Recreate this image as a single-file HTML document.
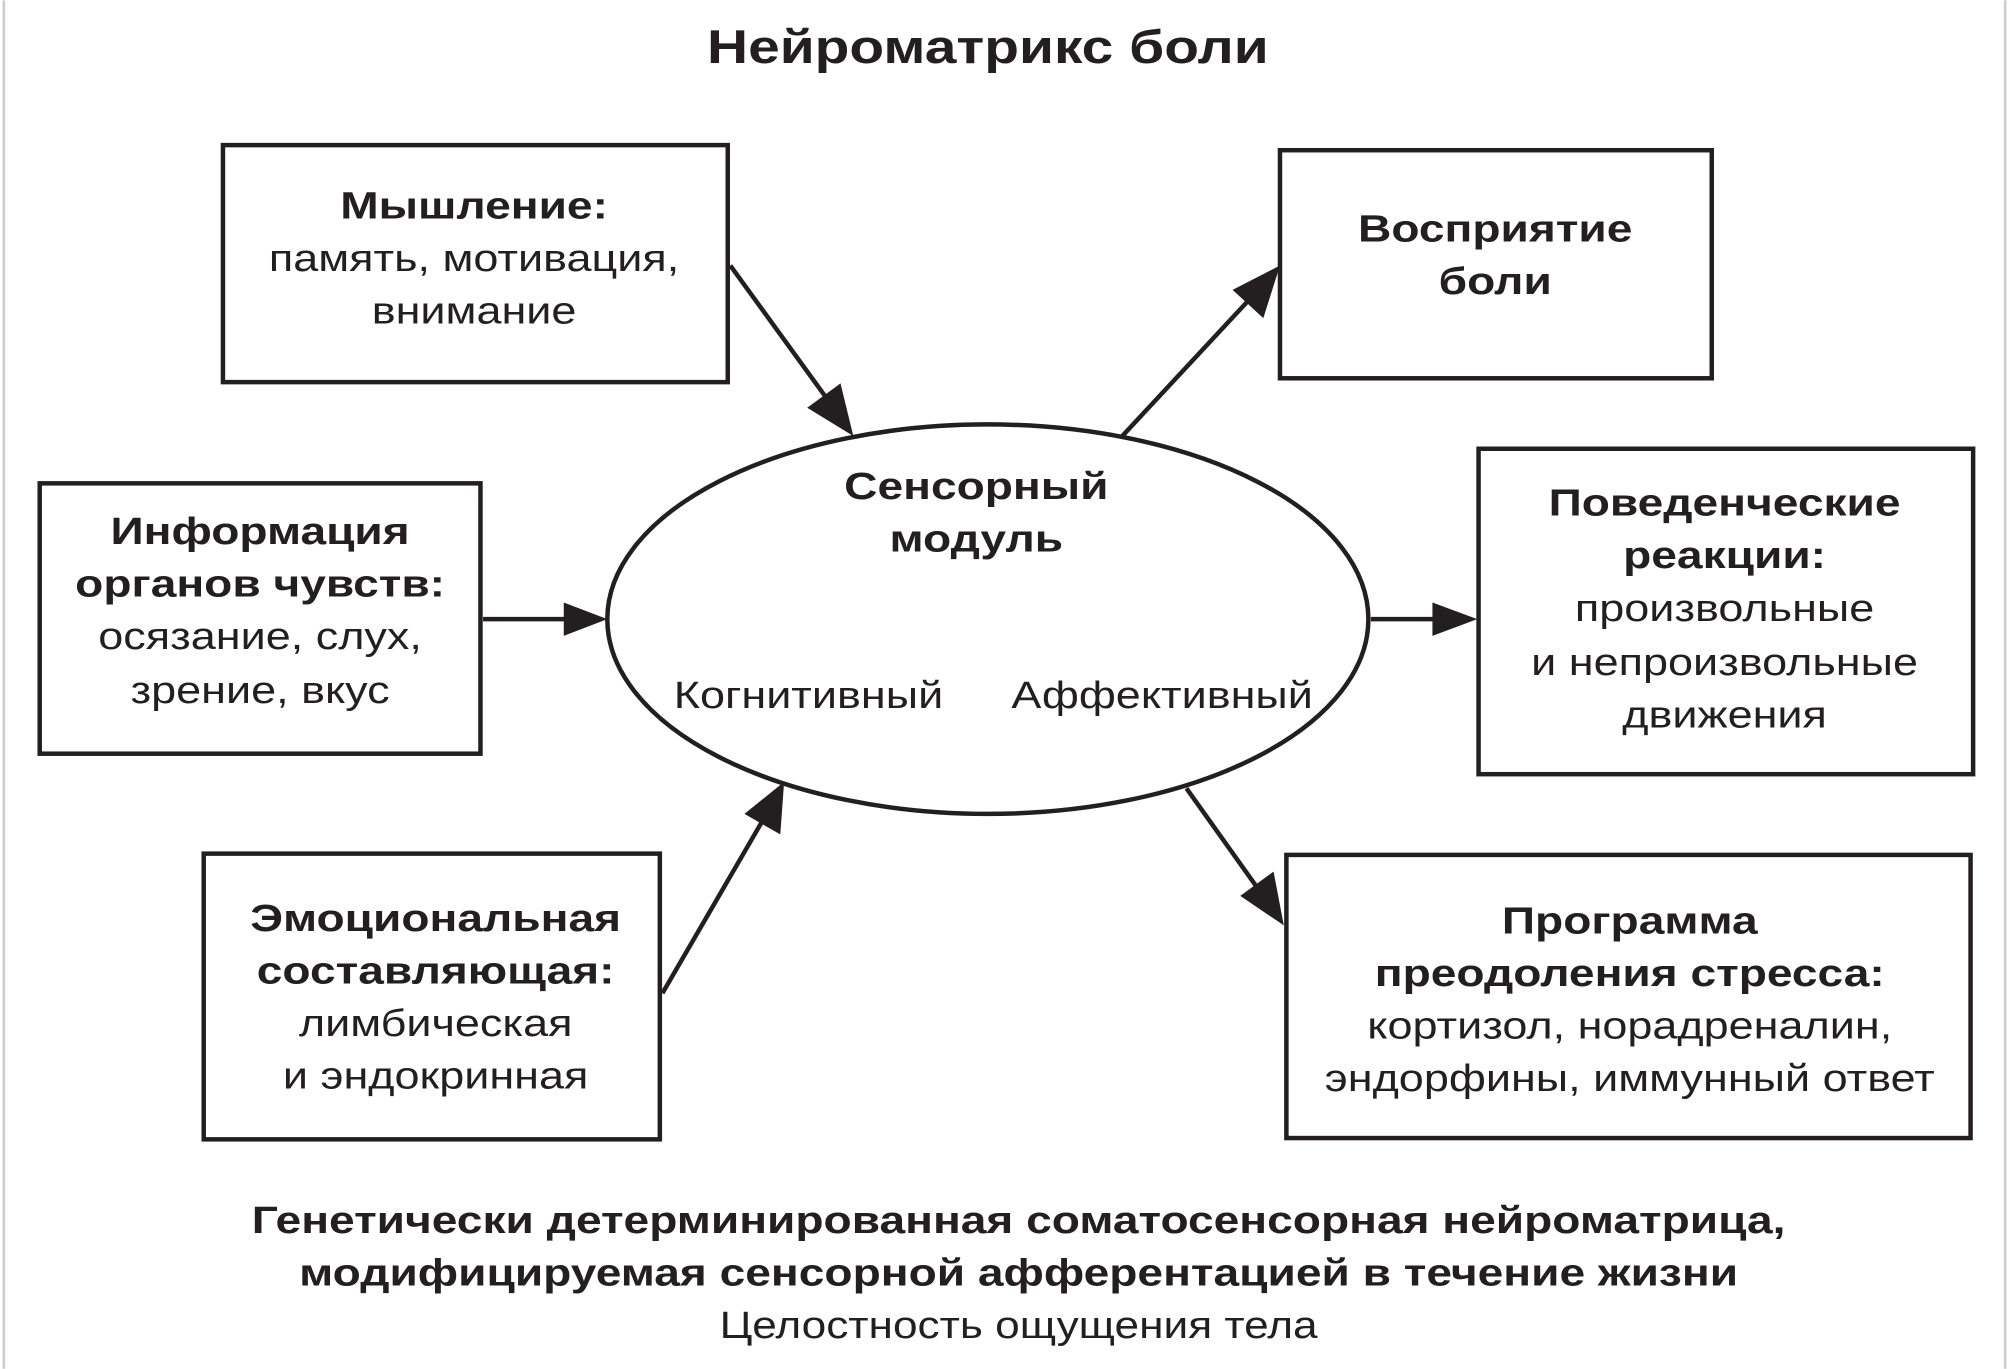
<!DOCTYPE html>
<html><head><meta charset="utf-8"><style>
html,body{margin:0;padding:0;background:#fff;}
svg{display:block;}
text{font-family:"Liberation Sans",Arial,sans-serif;fill:#231f20;}
.b{font-weight:bold;}
</style></head><body>
<svg width="2009" height="1369" viewBox="0 0 1568 1068" xmlns="http://www.w3.org/2000/svg">
<rect x="0" y="0" width="1568" height="1068" fill="#fff"/>
<line x1="3" y1="0" x2="3" y2="1068" stroke="#ccc" stroke-width="2"/>
<line x1="1565" y1="0" x2="1565" y2="1068" stroke="#ccc" stroke-width="2"/>
<g fill="none" stroke="#231f20" stroke-width="3.5">
<rect x="174" y="113" width="394" height="185"/>
<rect x="999" y="117" width="337" height="178"/>
<rect x="31" y="377" width="344" height="211"/>
<rect x="1154" y="350" width="386" height="254"/>
<rect x="159" y="666" width="356" height="223"/>
<rect x="1004" y="667" width="534" height="221"/>
<ellipse cx="771" cy="483" rx="297" ry="152"/>
<line x1="570" y1="207" x2="652" y2="320"/>
<line x1="876" y1="340" x2="983" y2="225"/>
<line x1="377" y1="483" x2="450" y2="483"/>
<line x1="1070" y1="483" x2="1128" y2="483"/>
<line x1="517" y1="775" x2="600" y2="632"/>
<line x1="926" y1="615" x2="988" y2="702"/>
</g>
<g fill="#231f20">
<polygon points="666,340 630,318 656,299"/>
<polygon points="999,207 986,248 962,226"/>
<polygon points="474,483 440,470 440,496"/>
<polygon points="1153,483 1118,470 1118,496"/>
<polygon points="612,610 609,651 581,635"/>
<polygon points="1002,722 968,699 994,680"/>
</g>
<g font-size="30" text-anchor="middle" dominant-baseline="central">
<text transform="translate(771,37) scale(1.2,1)" class="b" font-size="37">Нейроматрикс боли</text>
<text transform="translate(370,160) scale(1.2,1)" class="b">Мышление:</text>
<text transform="translate(370,201) scale(1.17,1)">память, мотивация,</text>
<text transform="translate(370,242) scale(1.17,1)">внимание</text>
<text transform="translate(1167,178) scale(1.2,1)" class="b">Восприятие</text>
<text transform="translate(1167,219) scale(1.2,1)" class="b">боли</text>
<text transform="translate(203,414) scale(1.2,1)" class="b">Информация</text>
<text transform="translate(203,455) scale(1.2,1)" class="b">органов чувств:</text>
<text transform="translate(203,496) scale(1.17,1)">осязание, слух,</text>
<text transform="translate(203,538) scale(1.17,1)">зрение, вкус</text>
<text transform="translate(1346,392) scale(1.2,1)" class="b">Поведенческие</text>
<text transform="translate(1346,433) scale(1.2,1)" class="b">реакции:</text>
<text transform="translate(1346,474) scale(1.17,1)">произвольные</text>
<text transform="translate(1346,516) scale(1.17,1)">и непроизвольные</text>
<text transform="translate(1346,557) scale(1.17,1)">движения</text>
<text transform="translate(340,716) scale(1.2,1)" class="b">Эмоциональная</text>
<text transform="translate(340,757) scale(1.2,1)" class="b">составляющая:</text>
<text transform="translate(340,798) scale(1.17,1)">лимбическая</text>
<text transform="translate(340,839) scale(1.17,1)">и эндокринная</text>
<text transform="translate(1272,718) scale(1.2,1)" class="b">Программа</text>
<text transform="translate(1272,759) scale(1.2,1)" class="b">преодоления стресса:</text>
<text transform="translate(1272,800) scale(1.17,1)">кортизол, норадреналин,</text>
<text transform="translate(1272,841) scale(1.17,1)">эндорфины, иммунный ответ</text>
<text transform="translate(762,379) scale(1.2,1)" class="b">Сенсорный</text>
<text transform="translate(762,420) scale(1.2,1)" class="b">модуль</text>
<text transform="translate(631,542) scale(1.17,1)">Когнитивный</text>
<text transform="translate(907,542) scale(1.17,1)">Аффективный</text>
<text transform="translate(795,952) scale(1.2,1)" class="b">Генетически детерминированная соматосенсорная нейроматрица,</text>
<text transform="translate(795,993) scale(1.2,1)" class="b">модифицируемая сенсорной афферентацией в течение жизни</text>
<text transform="translate(795,1034) scale(1.15,1)">Целостность ощущения тела</text>
</g>
</svg>
</body></html>
